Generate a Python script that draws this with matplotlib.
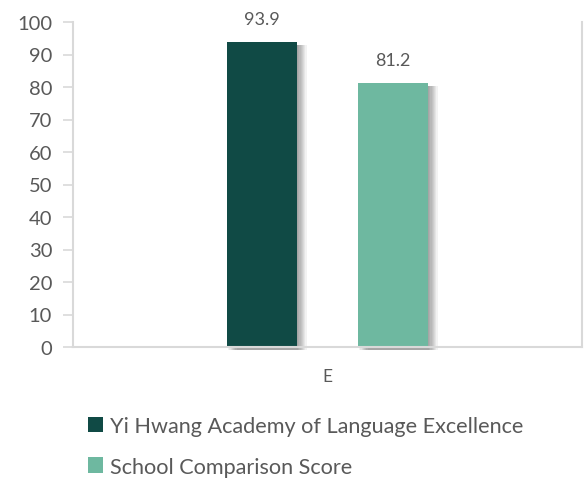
import matplotlib
matplotlib.use("Agg")
import matplotlib.pyplot as plt
import matplotlib.transforms as mtransforms
from matplotlib.patches import Patch

plt.rcParams['font.family'] = ['Lato', 'DejaVu Sans']

# data
category = ["E"]
series_names = ["Yi Hwang Academy of Language Excellence", "School Comparison Score"]
series_values = [93.9, 81.2]
series_colors = ["#104a45", "#6eb8a0"]
offsets = [-0.1287, 0.1287]
bar_width = 0.1375

grey = "#595959"
axis_grey = "#d9d9d9"

fig = plt.figure(figsize=(5.87, 4.81), dpi=100)
ax = fig.add_axes([73/587, 133/481, 509/587, 325/481])

for name, val, col, off in zip(series_names, series_values, series_colors, offsets):
    # soft shadow, offset right/down
    for i in range(1, 9):
        tr = ax.transData + mtransforms.ScaledTranslation(i * 1.2 / 100, -3 / 100, fig.dpi_scale_trans)
        ax.bar(off, val, width=bar_width, color="black", alpha=0.05,
               transform=tr, zorder=1, clip_on=False, linewidth=0)
    ax.bar(off, val, width=bar_width, color=col, zorder=3, label=name)
    ax.annotate(f"{val:.1f}", (off, val), xytext=(0, 11), textcoords="offset points",
                ha="center", va="bottom", fontsize=13, color=grey)

ax.set_xlim(-0.5, 0.5)
ax.set_ylim(0, 100)
ax.set_yticks(range(0, 101, 10))
ax.set_xticks([0])
ax.set_xticklabels(category)
ax.tick_params(axis="x", length=0, pad=15, labelsize=12.5, colors=grey)
ax.tick_params(axis="y", length=7, width=1.2, color=axis_grey, labelsize=14.5, labelcolor=grey, pad=8)

ax.spines["top"].set_visible(False)
for s in ["left", "bottom", "right"]:
    ax.spines[s].set_color(axis_grey)
    ax.spines[s].set_linewidth(1.5)
    ax.spines[s].set_zorder(4)

handles = [Patch(facecolor=c, edgecolor="none") for c in series_colors]
fig.legend(handles, series_names, loc="upper left", bbox_to_anchor=(88/587, 1 - 417/481),
           frameon=False, fontsize=15.6, labelcolor=grey, handlelength=0.7, handleheight=0.7,
           handletextpad=0.3, labelspacing=0.95, borderpad=0, borderaxespad=0)

fig.savefig("out.png", dpi=100)
